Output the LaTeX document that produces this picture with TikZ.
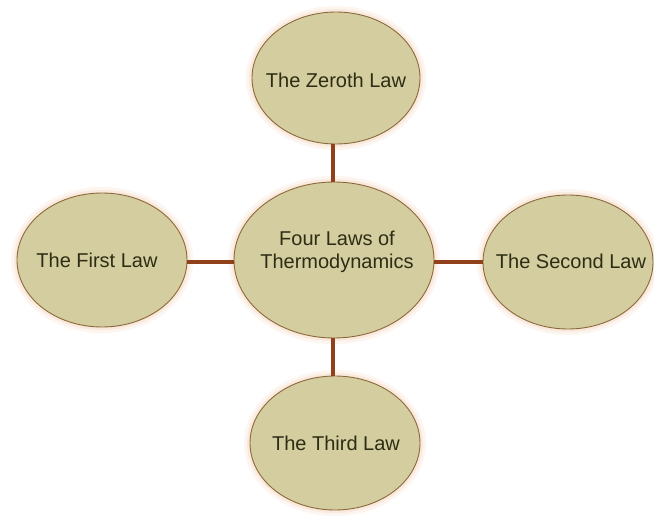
\documentclass[tikz,border=0pt]{standalone}
\usepackage{fontspec}
\setmainfont{Liberation Sans}
\usetikzlibrary{shapes.geometric}
\definecolor{lawfill}{RGB}{212,205,160}
\definecolor{lawedge}{RGB}{140,105,60}
\definecolor{lawlink}{RGB}{145,65,25}
\definecolor{lawtext}{RGB}{45,45,20}
\definecolor{lawglow}{RGB}{245,200,170}
\tikzset{
  lawbubble/.style={ellipse, draw=lawedge, line width=0.9pt, fill=lawfill, inner sep=0pt},
  lawlabel/.style={font=\fontsize{20}{23}\selectfont, text=lawtext, align=center, inner sep=0pt},
  lawconn/.style={draw=lawlink, line width=3.6pt},
}
\begin{document}
\begin{tikzpicture}[x=1pt,y=-1pt]
\fill[white] (0,0) rectangle (654,527);
\useasboundingbox (0,0) rectangle (654,527);
% soft glow
\foreach \cx/\cy/\rx/\ry in {336/78/84/66, 334/260/100/78, 102/260/85/67, 568/262/85/67, 335/443/85/67}{
  \fill[lawglow, opacity=0.18] (\cx,\cy) ellipse [x radius=\rx+6, y radius=\ry+6];
  \fill[lawglow, opacity=0.25] (\cx,\cy) ellipse [x radius=\rx+3, y radius=\ry+3];
}
\node[lawbubble, minimum width=168pt, minimum height=132pt] (zero) at (336,78) {};
\node[lawbubble, minimum width=200pt, minimum height=156pt] (four) at (334,260) {};
\node[lawbubble, minimum width=170pt, minimum height=134pt] (first) at (102,260) {};
\node[lawbubble, minimum width=170pt, minimum height=134pt] (second) at (568,262) {};
\node[lawbubble, minimum width=170pt, minimum height=134pt] (third) at (335,443) {};
\draw[lawconn] (zero.south -| 333,0) -- (four.north -| 333,0);
\draw[lawconn] (third.north -| 333,0) -- (four.south -| 333,0);
\draw[lawconn] (first.east |- 0,262) -- (four.west |- 0,262);
\draw[lawconn] (second.west |- 0,262) -- (four.east |- 0,262);
\node[lawlabel] (tzero) at (336,80) {The Zeroth Law};
\node[lawlabel] (tfour) at (337,252) {Four Laws of\\Thermodynamics};
\node[lawlabel] (tfirst) at (97,260) {The First Law};
\node[lawlabel] (tsecond) at (571,261) {The Second Law};
\node[lawlabel] (tthird) at (336,443) {The Third Law};
\end{tikzpicture}
\end{document}
